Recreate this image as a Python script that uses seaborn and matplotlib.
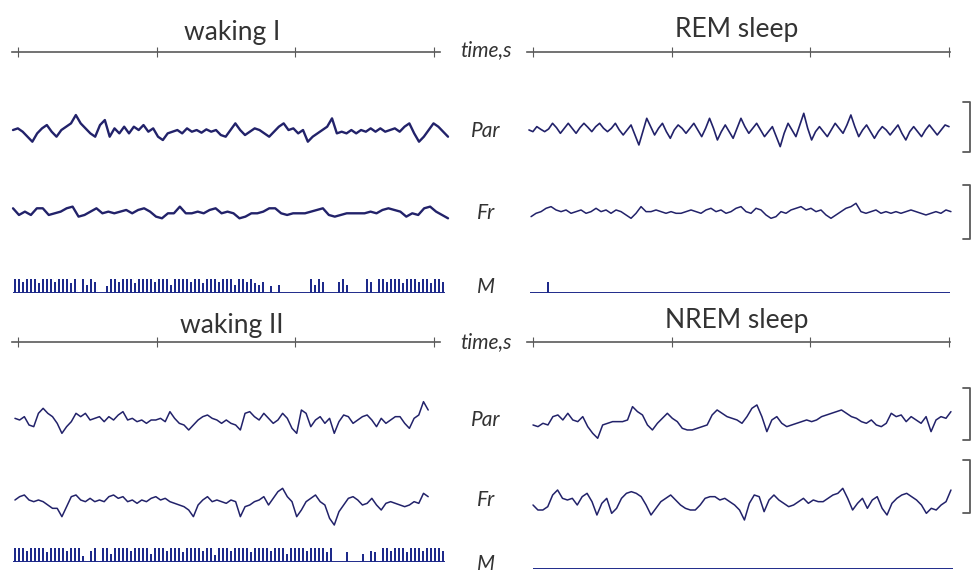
import numpy as np
import pandas as pd
import matplotlib
matplotlib.use("Agg")
import matplotlib.pyplot as plt
import seaborn as sns

# EEG traces (relative amplitude, 3 units ~ 1 px of the original)
waking1_par = [5, 10, 0, -15, -30, -5, 10, 20, 0, -15, 5, 15, 25, 50, 25, 10, -5, -15, 20, 35,
               -15, 10, -5, 15, -5, 15, 5, 20, 0, 10, -15, -25, -5, 0, 5, -5, 10, 0, 5, -3,
               7, 0, 5, -10, -15, 5, 25, 5, -10, 0, 10, 5, -5, -15, 0, 15, 25, 5, 10, -5,
               5, -30, -15, -5, 5, 15, 40, -5, 0, -5, 5, -5, 5, 0, 10, 0, 10, 0, 5, 10,
               0, 15, 25, -5, -30, -15, 5, 25, 15, 0, -15]
rem_par = [-5, -10,
           5, -3, -10, -2, 15, 2, -15, 0, 15, 0, -15, 2, 15, 3, -10, 5,
           15, 0, -10, 0, 15, -5, -20, -5, 10, -20, -50, -10, 30, 5, -20, 0,
           15, -10, -30, -5, 10, 0, -15, 0, 15, -5, -25, 0, 30, 0, -35, -10,
           10, -10, -30, 0, 30, 5, -15, 0, 15, -5, -25, -10, 5, -25, -55, -15,
           15, -5, -25, 10, 45, 0, -35, -10, 5, -10, -25, -5, 15, 0, -15, 10,
           40, 5, -25, -5, 10, -10, -30, -10, 5, -5, -20, -5, 10, -15, -35, -10,
           5, -10, -25, -5, 10, -5, -20, -5, 10, 5]
waking1_fr = [15, -5, 5, -5, 15, 15, -5, 0, 5, 15, 20, -10, -5, 5, 15, 0, 5, 0, 5, 10,
              0, 10, 15, 5, -10, -15, 0, 0, 20, 0, 0, 5, 0, 10, 15, 0, 5, 0, -15, -10,
              0, 0, 5, 15, 15, 0, -5, 0, 0, 0, 5, 10, 15, -5, -10, -5, 0, 0, 0, 0,
              5, 0, 10, 15, 10, 5, -10, 0, -5, 15, 20, 5, -5, -15]
rem_fr = [-10, 0, 5, 15, 20, 10, 5, 10, 0, 5, 10, 0, 5, 15, 5, 10, 0, 10, 5, -5,
          -15, 0, 20, 5, 5, 10, 5, 0, 5, 0, 0, 5, 10, 5, 0, 10, 15, 5, 10, 0,
          5, 15, 20, 5, 0, 15, 10, -5, -15, -10, 5, 0, 10, 15, 20, 10, 15, 5, 10, -5,
          -15, -5, 5, 15, 20, 30, 5, 0, 5, 10, 0, 5, 0, 5, 0, 5, 10, 5, 0, -5,
          0, 5, 0, 10, 5]
waking2_par = [5, 0, 10, -15, -20, 20, 35, 20, 10, -10, -40, -20, -5, 20, 10, 20, 0, 5, 10, -5,
               10, 0, 15, 25, 0, 5, -5, 0, -10, 0, 0, 5, -5, 25, 5, -10, -15, -30, -15, 0,
               10, 15, 5, 0, -10, 0, -10, -15, -30, 20, 25, 10, 0, 20, 5, -10, 0, 20, 5, -25,
               -40, 30, 20, -20, 0, 10, -10, 5, -40, -5, 15, 10, -10, 0, 10, 15, 0, -20, 5, -10,
               0, 10, 10, -10, -25, 5, 15, 55, 30]
nrem_par = [-20, -25, -15, -20, 5, 10, -5, 15, -5, -10, 5, -25, -45, -60, -20, -15, -10, -10, -10, -5,
            35, 20, 10, -20, -35, -15, 0, 15, 0, -10, -30, -35, -35, -30, -25, -20, 10, 25, 15, 5,
            0, -5, -15, 5, 30, 40, 5, -40, -5, 5, -15, -25, -20, -15, -10, -5, -10, -5, 5, 10,
            15, 20, 25, 15, 5, 0, -10, -15, -5, -20, -25, -15, 15, 5, 10, -10, 5, -5, -15, 5,
            -40, -5, 5, 0, 20]
waking2_fr = [0, 10, 15, 0, -5, 0, -5, -15, -25, -25, -50, -20, 10, 15, 0, -5, 5, -5, 0, -5,
              10, 15, 5, 10, -5, 0, -10, 0, -5, 5, 10, 0, 5, -5, -10, -15, -20, -30, -50, -15,
              0, 10, -5, 0, -5, -10, 0, -5, -50, -20, -15, -5, 0, 10, -15, 5, 25, 35, 10, -5,
              -50, -30, -5, 5, 15, -5, -15, -55, -75, -35, -15, 5, 10, 0, -15, -10, 5, -15, -30, -10,
              -5, -10, -15, -20, -15, -5, -10, 20, 10]
nrem_fr = [-15, -30, -30, -20, 15, 30, 5, 0, 5, -15, 10, 20, -5, -45, -10, 5, -40, -25, 5, 20,
           25, 20, 10, -15, -45, -25, -5, 5, 15, 0, -15, -25, -30, -30, -15, 5, 10, 10, 0, 5,
           -5, -15, -30, -60, -10, 15, 10, -35, 0, 15, 0, -10, -20, -15, -5, 5, -10, 0, -5, -5,
           5, 15, 20, 35, 5, -30, -10, 5, -25, 0, 10, -25, -45, -10, 5, 15, 20, 10, 0, -15,
           -40, -25, -30, -15, -5, 30]

# motion channel M: activity per bin (0..1)
waking1_m = [1, 1, 0.8, 1, 1, 1, 0.7, 1, 1, 1, 0.8, 1, 1, 1, 0.7, 1, 0, 1, 0.6, 1,
             0.8, 0, 0, 0.5, 1, 1, 0.8, 1, 1, 1, 0.7, 1, 1, 1, 1, 0.8, 1, 1, 1, 0.6,
             1, 1, 1, 1, 0.8, 1, 1, 0.7, 1, 1, 1, 0.8, 1, 1, 1, 0.6, 1, 1, 0.8, 1,
             0.7, 0.6, 0.8, 0, 0.5, 0, 0.6, 0, 0, 0, 0, 0, 0, 0, 1, 0.6, 1, 0.8, 0, 0,
             0, 0.8, 1, 0.6, 0, 0, 0, 0, 1, 0.8, 0, 1, 1, 0.8, 1, 1, 1, 0.7, 1, 1,
             1, 0.8, 1, 1, 0.7, 1, 1, 0.8]
rem_m = [0, 0, 0, 0, 0.8] + [0] * 100
waking2_m = [1, 1, 1, 0.8, 1, 1, 1, 1, 0.7, 1, 1, 1, 1, 0.8, 1, 1, 1, 0.4, 0, 0.8,
             1, 0, 1, 1, 0.6, 1, 1, 1, 1, 0.8, 1, 1, 1, 1, 0.6, 1, 1, 1, 0.8, 1,
             1, 1, 0.7, 1, 1, 1, 1, 0.8, 1, 1, 0.5, 1, 1, 1, 0.8, 1, 1, 1, 1, 0.7,
             1, 1, 1, 1, 0.8, 1, 1, 1, 0.6, 1, 1, 1, 1, 0.8, 1, 1, 1, 1, 0.7, 1,
             0, 0, 0, 0.7, 0, 0, 0, 0.6, 0, 0.8, 0.7, 0, 1, 1, 0.8, 1, 1, 1, 0.7, 1,
             1, 1, 0.8, 1, 1, 1, 1, 0.8]
nrem_m = [0] * 105

panel_titles = ["waking I", "REM sleep", "waking II", "NREM sleep"]
channel_labels = ["time,s", "Par", "Fr", "M"]
time_ticks = [0, 1, 2, 3]

sns.set_theme(style="white")
plt.rcParams['font.family'] = ['Lato', 'DejaVu Sans']

W, H = 972, 574
PPS = 138.67          # pixels per second on the time axes
BIN = 4 / PPS         # width of one motion bin
TRACE_COL = '#22226a'
M_COL = '#1e2a8a'
AXIS_COL = '#5a5a5a'
TEXT_COL = '#333333'

fig = plt.figure(figsize=(W / 100, H / 100), dpi=100)

LEFT = (0, 462, 18)     # panel box x0, x1 and pixel of t = 0
RIGHT = (515, 972, 533)


def add_ax(panel, y_top, y_bot):
    x0, x1, tick0 = panel
    ax = fig.add_axes([x0 / W, 1 - y_bot / H, (x1 - x0) / W, (y_bot - y_top) / H])
    ax.set_xlim((x0 - tick0) / PPS, (x1 - tick0) / PPS)
    ax.patch.set_alpha(0)
    return ax


def time_axis(panel, y, t_from, t_to):
    ax = add_ax(panel, y - 1, y)
    sns.despine(ax=ax, left=True)
    ax.spines['bottom'].set_bounds(t_from, t_to)
    ax.spines['bottom'].set_color(AXIS_COL)
    ax.spines['bottom'].set_linewidth(1.2)
    ax.set_xticks(time_ticks)
    ax.set_xticklabels([])
    ax.set_yticks([])
    ax.tick_params(axis='x', bottom=True, direction='inout', length=7,
                   width=0.8, color=AXIS_COL)


def trace(panel, yc, values, t0, t1, lw, bar=None):
    h = 70
    ax = add_ax(panel, yc - h / 2, yc + h / 2)
    df = pd.DataFrame({'t': np.linspace(t0, t1, len(values)), 'v': values})
    sns.lineplot(data=df, x='t', y='v', ax=ax, color=TRACE_COL, lw=lw,
                 estimator=None, sort=False, clip_on=False)
    ax.set_ylim(-1.5 * h, 1.5 * h)
    ax.set_axis_off()
    if bar is not None:
        mid, size = bar
        tb = (970 - panel[2]) / PPS
        ax.plot([tb - 0.05, tb, tb, tb - 0.05],
                [mid + size / 2, mid + size / 2, mid - size / 2, mid - size / 2],
                color=AXIS_COL, lw=1.3, clip_on=False)


def motion(panel, y_base, values, t0):
    ax = add_ax(panel, y_base - 14, y_base)
    t = t0 + BIN * (np.arange(len(values)) + 0.5)
    ax.bar(t, values, width=BIN * 0.7, color=M_COL, linewidth=0)
    ax.hlines(0, t0, t0 + BIN * len(values), color=M_COL, lw=1.4)
    ax.set_ylim(0, 1)
    ax.set_axis_off()


def label(x, y, s, **kw):
    fig.text(x / W, 1 - y / H, s, color=TEXT_COL, **kw)


# ---- upper block ----
time_axis(LEFT, 52, -0.043, 3.043)
time_axis(RIGHT, 52, -0.043, 3.007)
trace(LEFT, 131.7, waking1_par, -0.036, 3.101, 1.7)
trace(RIGHT, 128.3, rem_par, -0.029, 3.0, 1.2, bar=(4, 150))
trace(LEFT, 213.3, waking1_fr, -0.036, 3.101, 1.7)
trace(RIGHT, 213.3, rem_fr, -0.014, 3.014, 1.1, bar=(4, 162))
motion(LEFT, 293, waking1_m, -0.036)
motion(RIGHT, 293, rem_m, -0.022)

# ---- lower block ----
time_axis(LEFT, 342, -0.043, 3.043)
time_axis(RIGHT, 342, -0.043, 3.007)
trace(LEFT, 420, waking2_par, -0.022, 2.958, 1.1)
trace(RIGHT, 418.3, nrem_par, 0.0, 3.014, 1.1, bar=(13, 156))
trace(LEFT, 500, waking2_fr, -0.022, 2.958, 1.1)
trace(RIGHT, 500, nrem_fr, 0.0, 3.014, 1.1, bar=(40, 159))
motion(LEFT, 562, waking2_m, -0.036)
motion(RIGHT, 569, nrem_m, 0.0)

# ---- text ----
label(232, 40, panel_titles[0], ha='center', va='baseline', fontsize=19)
label(737, 37, panel_titles[1], ha='center', va='baseline', fontsize=19)
label(232, 333, panel_titles[2], ha='center', va='baseline', fontsize=19)
label(737, 328, panel_titles[3], ha='center', va='baseline', fontsize=19)
for yy in [(50, 131, 213, 287), (342, 420, 500, 564)]:
    for y, s in zip(yy, channel_labels):
        label(486, y, s, ha='center', va='center', fontsize=15, style='italic')

fig.savefig('out.png', dpi=100)
